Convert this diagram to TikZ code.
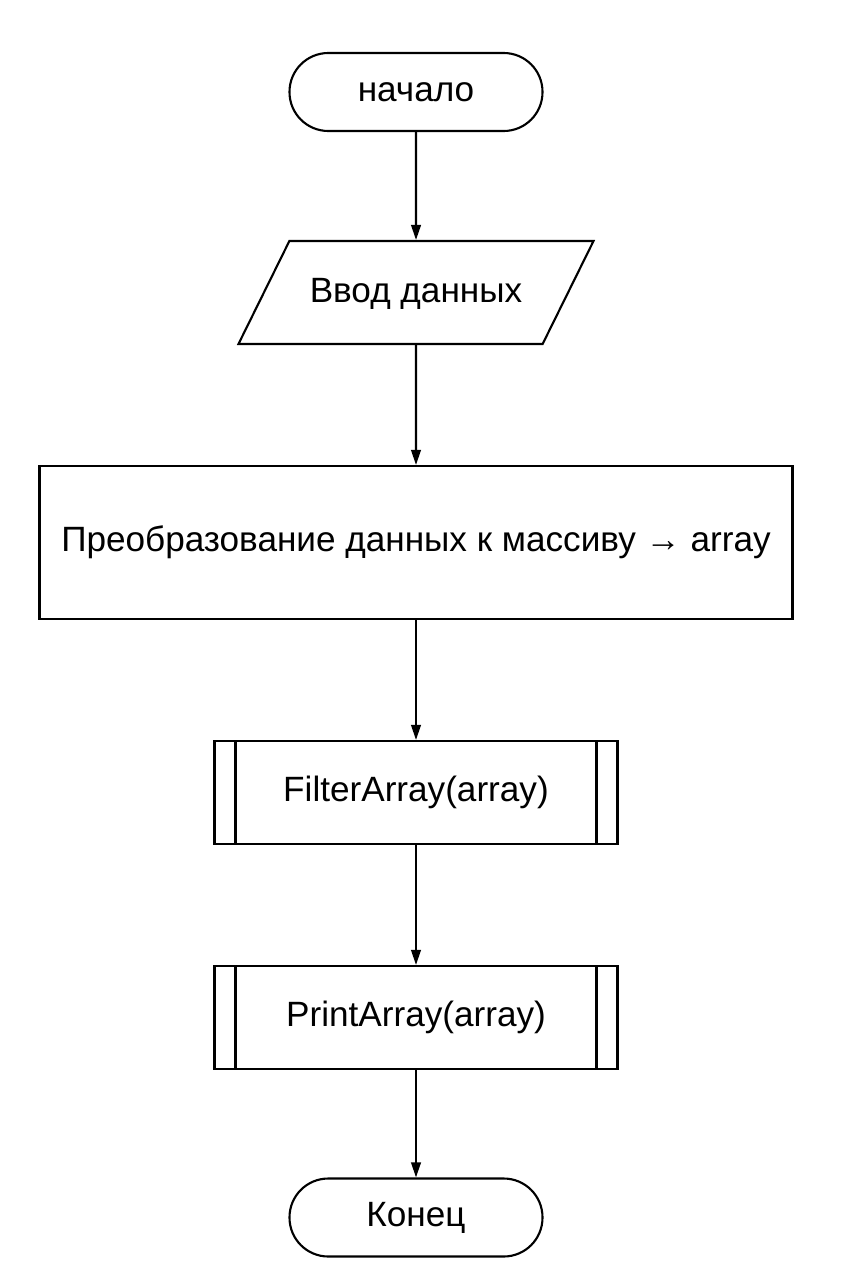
\documentclass[tikz,border=0pt]{standalone}
\usepackage{fontspec}
\setmainfont{Liberation Sans}
\usetikzlibrary{arrows.meta,positioning,shapes.geometric}

\tikzset{
  terminal/.style={draw, rectangle, rounded corners=0.97cm, minimum width=6.325cm, minimum height=1.95cm},
  inout/.style={draw, trapezium, trapezium left angle=63.7, trapezium right angle=116.3,
    trapezium stretches body, minimum width=8.875cm, inner sep=0pt, text height=43.9pt, text depth=29.3pt},
  process/.style={draw, rectangle, minimum width=18.825cm, minimum height=3.825cm},
  subproc/.style={draw, rectangle, minimum width=10.075cm, minimum height=2.575cm,
    path picture={
      \draw ([xshift=0.525cm]path picture bounding box.north west) -- ([xshift=0.525cm]path picture bounding box.south west);
      \draw ([xshift=-0.525cm]path picture bounding box.north east) -- ([xshift=-0.525cm]path picture bounding box.south east);
    }},
  flow/.style={line width=1.5pt, -{Triangle[length=0.375cm,width=0.24cm]}}
}

\begin{document}
\begin{tikzpicture}[line width=1.5pt, on grid, font=\fontsize{25pt}{30pt}\selectfont]
    \useasboundingbox (0,0) rectangle (21.075,-31.9);
    \node[terminal] (start) at (10.4,-2.3) {начало};
    \node[inout] (input) [below=5.0125cm of start] {Ввод данных};
    \node[process] (convert) [below=6.25cm of input] {Преобразование данных к массиву → array};
    \node[subproc] (filter) [below=6.25cm of convert] {FilterArray(array)};
    \node[subproc] (print) [below=5.625cm of filter] {PrintArray(array)};
    \node[terminal] (stop) [below=5cm of print] {Конец};
    \draw[flow] (start) -- (input);
    \draw[flow] (input) -- (convert);
    \draw[flow] (convert) -- (filter);
    \draw[flow] (filter) -- (print);
    \draw[flow] (print) -- (stop);
\end{tikzpicture}
\end{document}
